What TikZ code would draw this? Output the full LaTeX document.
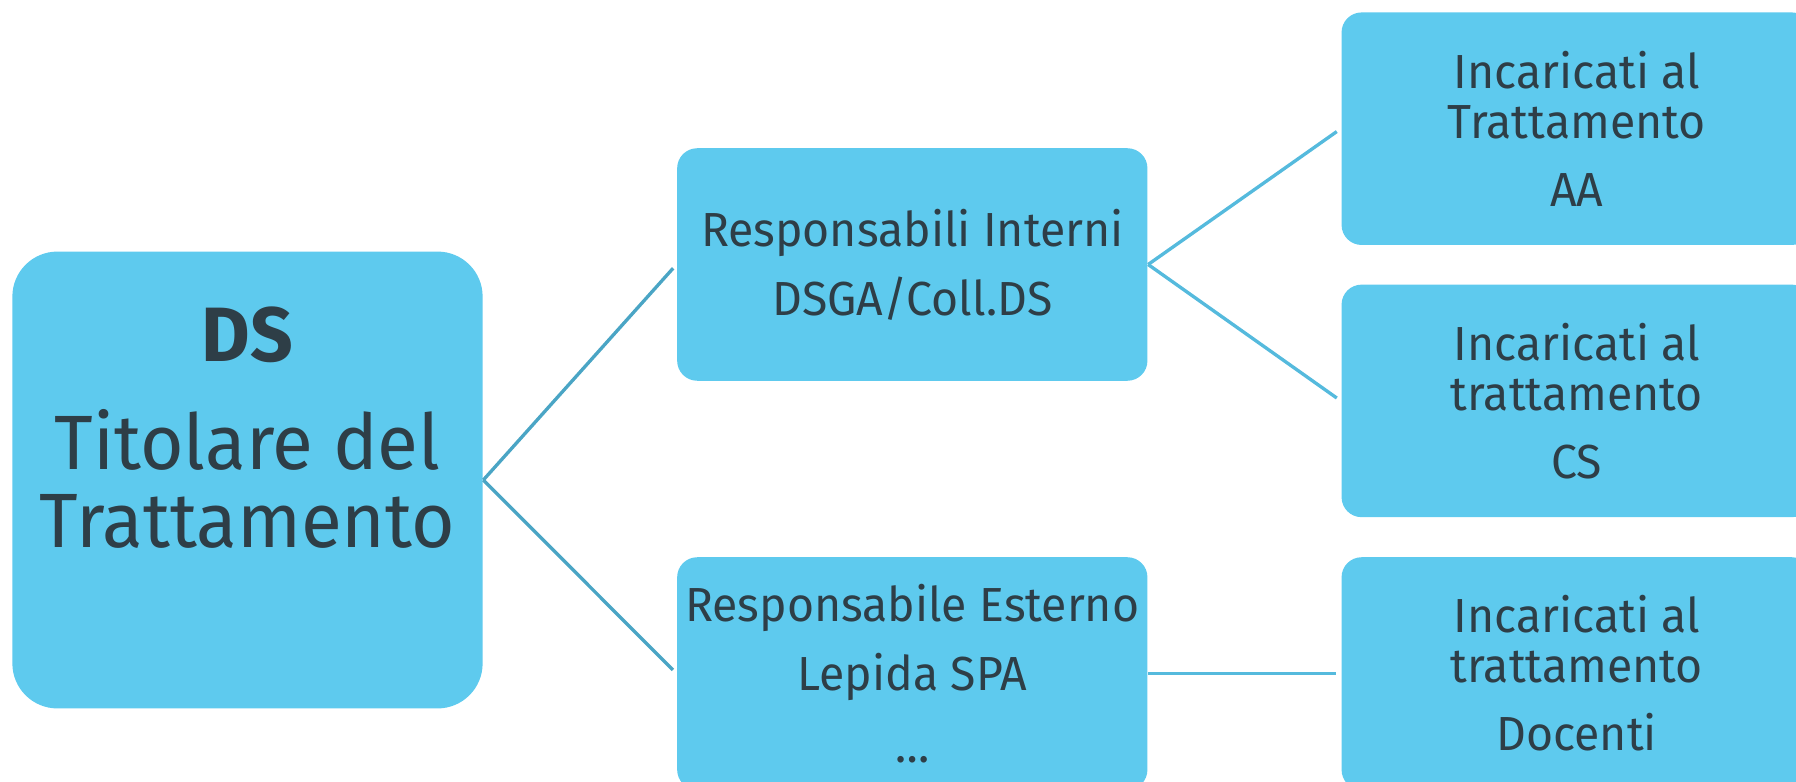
\documentclass[tikz,border=0pt]{standalone}
\usepackage{fontspec}
\setmainfont{Fira Sans}[FakeStretch=0.97]
\definecolor{boxblue}{HTML}{5ECAEE}
\definecolor{textgrey}{HTML}{2E3E47}
\definecolor{linkdark}{HTML}{4AA5C5}
\definecolor{linklight}{HTML}{55BADD}

\begin{document}
\begin{tikzpicture}[x=0.01cm, y=-0.01cm,
    box/.style={fill=boxblue, text=textgrey, rounded corners=0.2cm, minimum width=4.7cm,
        minimum height=2.324cm, align=center, inner sep=0pt, font=\fontsize{13.6}{14.2}\selectfont},
    link/.style={line width=0.95pt, shorten >=0.05cm}]
    \useasboundingbox (0,0) rectangle (1796,782);
    \clip (0,0) rectangle (1796,782);
    \node[box, minimum height=4.566cm, rounded corners=0.45cm] (ds) at (247.5,480) {};
    \node[text=textgrey, align=center, font=\fontsize{21.9}{22.2}\selectfont] (dstitle) at (247.5,428)
        {\textbf{DS}\\[0.3cm]Titolare del\\Trattamento};
    \node[box] (ri) at (912.3,264.5) {Responsabili Interni\\[0.19cm]DSGA/Coll.DS};
    \node[box] (re) at (912.3,673.5) {Responsabile Esterno\\[0.19cm]Lepida SPA\\[0.22cm]…};
    \foreach \n/\y/\t/\w in {aa/128.7/Trattamento/AA, cs/400.9/trattamento/CS, doc/673.5/trattamento/Docenti}{
        \node[box] (\n) at (1576.7,\y) {Incaricati al\\\t\\[0.18cm]\w};
    }
    \foreach \a/\b in {ds/ri, ds/re}{
        \draw[link, linkdark] (\a.east) -- (\b.west);
    }
    \foreach \a/\b in {ri/aa, ri/cs, re/doc}{
        \draw[link, linklight] (\a.east) -- (\b.west);
    }
\end{tikzpicture}
\end{document}
